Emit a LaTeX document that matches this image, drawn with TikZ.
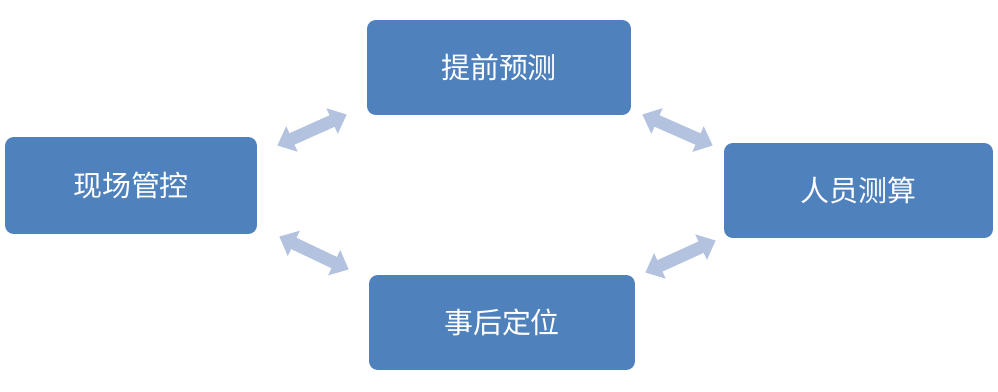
\documentclass[tikz,border=0pt]{standalone}
\usepackage{fontspec}
\newfontfamily\cjk{Noto Sans CJK SC}
\usetikzlibrary{positioning, arrows.meta, calc}

\definecolor{boxblue}{HTML}{4F81BD}
\definecolor{arrowblue}{HTML}{B3C3DF}

\begin{document}
\begin{tikzpicture}[
    x=0.02cm, y=-0.02cm,
    box/.style={fill=boxblue, draw=none, rounded corners=5pt, minimum height=1.9cm, align=center, font=\cjk\fontsize{16.5}{20}\selectfont, text=white},
    flow/.style={{Triangle[length=0.32cm, width=0.54cm]}-{Triangle[length=0.32cm, width=0.54cm]}, line width=0.25cm, draw=arrowblue}
]

    % ================= BOUNDING BOX =================
    \useasboundingbox (0,0) rectangle (998,392);

    % ================= BOXES =================
    \node[box, minimum width=5.28cm] (Predict) at (499, 67.5) {提前预测};
    \node[box, minimum width=5.04cm, minimum height=1.94cm] (Control) at (131, 185.5) {现场管控};
    \node[box, minimum width=5.38cm] (Staff) at (858.5, 190.5) {人员测算};
    \node[box, minimum width=5.32cm] (Locate) at (502, 322.5) {事后定位};

    % ================= ARROW END POINTS =================
    \coordinate (CtrlUp) at ($(Control.east)+(20,-40)$);
    \coordinate (PredLeft) at ($(Predict.west)+(-20,47)$);
    \coordinate (PredRight) at ($(Predict.east)+(11,47)$);
    \coordinate (StaffUp) at ($(Staff.west)+(-11,-45)$);
    \coordinate (CtrlDown) at ($(Control.east)+(22,51)$);
    \coordinate (LocLeft) at ($(Locate.west)+(-20,-53)$);
    \coordinate (LocRight) at ($(Locate.east)+(10,-50)$);
    \coordinate (StaffDown) at ($(Staff.west)+(-8,50)$);

    % ================= CONNECTIONS =================
    \draw[flow] (CtrlUp) -- (PredLeft);
    \draw[flow] (PredRight) -- (StaffUp);
    \draw[flow] (CtrlDown) -- (LocLeft);
    \draw[flow] (LocRight) -- (StaffDown);

\end{tikzpicture}
\end{document}
